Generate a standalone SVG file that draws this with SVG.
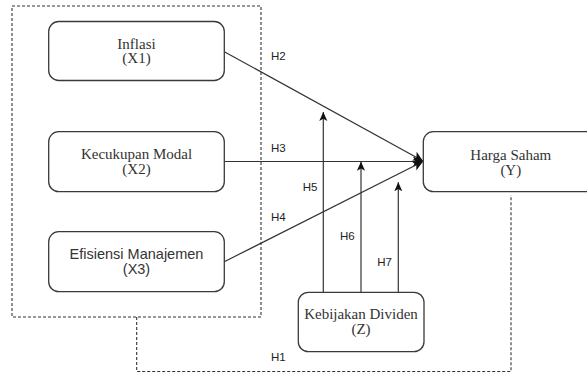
<svg xmlns="http://www.w3.org/2000/svg" width="587" height="374" viewBox="0 0 587 374">
<style>
.box{fill:#fff;stroke:#3a3a3a;stroke-width:1.3}
.ser{font-family:"Liberation Serif","Times New Roman",serif;font-size:15px;fill:#333;text-anchor:middle}
.san{font-family:"Liberation Sans",Arial,sans-serif;font-size:14.5px;fill:#333;text-anchor:middle}
.lab{font-family:"Liberation Sans",Arial,sans-serif;font-size:11.5px;fill:#222}
.ln{fill:none;stroke:#333;stroke-width:1.2}
.dash{fill:none;stroke:#333;stroke-width:1.1;stroke-dasharray:3,2}
</style>
<defs>
<marker id="ah" viewBox="0 0 10 10" refX="10" refY="5" markerWidth="10" markerHeight="10" markerUnits="userSpaceOnUse" orient="auto">
<path d="M0,0 L10,5 L0,10 L2.5,5 z" fill="#111"/>
</marker>
<marker id="ah2" viewBox="0 0 10 10" refX="10" refY="5" markerWidth="9" markerHeight="9" markerUnits="userSpaceOnUse" orient="auto">
<path d="M0,0.5 L10,5 L0,9.5 L2.5,5 z" fill="#111"/>
</marker>
</defs>
<g id="moderation-frame">
<rect x="12" y="6" width="249" height="311" class="dash"/>
</g>
<g id="connectors">
<path class="ln" d="M224.3,51.7 L423,161" marker-end="url(#ah)"/>
<path class="ln" d="M224.3,161.5 L423,161.5" marker-end="url(#ah)"/>
<path class="ln" d="M224.3,261.7 L423,161.5" marker-end="url(#ah)"/>
<path class="ln" d="M323.3,292.3 L323.3,112" marker-end="url(#ah2)"/>
<path class="ln" d="M361,292.3 L361,161.7" marker-end="url(#ah2)"/>
<path class="ln" d="M398.3,292.3 L398.3,182.3" marker-end="url(#ah2)"/>
<path class="dash" d="M136.7,317 L136.7,371.5 L511,371.5 L511,195"/>
<text class="lab" x="271" y="59.5">H2</text>
<text class="lab" x="271" y="152">H3</text>
<text class="lab" x="271" y="220.5">H4</text>
<text class="lab" x="271" y="361">H1</text>
<text class="lab" x="302.7" y="191">H5</text>
<text class="lab" x="340" y="240">H6</text>
<text class="lab" x="377.3" y="266">H7</text>
</g>
<g id="inflasi">
<rect x="48.7" y="21.5" width="175.6" height="59" rx="10" class="box"/>
<text class="ser" x="136.5" y="48.5">Inflasi</text>
<text class="ser" x="136.5" y="63">(X1)</text>
</g>
<g id="kecukupan-modal">
<rect x="48.7" y="131.7" width="175.6" height="60" rx="10" class="box"/>
<text class="ser" x="136.5" y="159.2">Kecukupan Modal</text>
<text class="ser" x="136.5" y="173.7">(X2)</text>
</g>
<g id="efisiensi-manajemen">
<rect x="48.7" y="231.7" width="175.6" height="60" rx="10" class="box"/>
<text class="san" x="136.5" y="259.2">Efisiensi Manajemen</text>
<text class="san" x="136.5" y="274">(X3)</text>
</g>
<g id="harga-saham">
<rect x="423.3" y="131.7" width="175" height="60" rx="10" class="box"/>
<text class="ser" x="510.8" y="159.5">Harga Saham</text>
<text class="ser" x="510.8" y="174.5">(Y)</text>
</g>
<g id="kebijakan-dividen">
<rect x="298.3" y="292.3" width="125.7" height="59.4" rx="10" class="box"/>
<text class="ser" x="361" y="319">Kebijakan Dividen</text>
<text class="ser" x="361" y="334">(Z)</text>
</g>
</svg>
